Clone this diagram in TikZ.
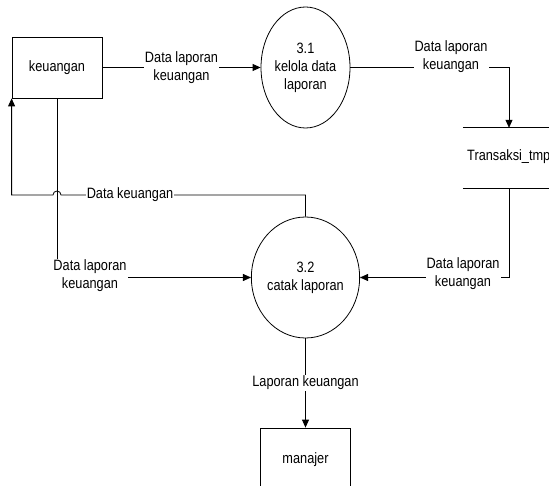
\documentclass[tikz,border=0pt]{standalone}
\usepackage{fontspec}
\setmainfont[FakeStretch=0.85]{Liberation Sans}
\usetikzlibrary{arrows.meta,shapes.geometric}

\begin{document}
\begin{tikzpicture}[x=1pt,y=-1pt,
  every node/.style={font=\fontsize{15}{18}\selectfont},
  flow/.style={draw=black, line width=0.8pt},
  arr/.style={flow, -{Triangle[length=8pt,width=7pt]}},
  entity/.style={draw=black, line width=0.8pt, rectangle, inner sep=0pt},
  proc/.style={draw=black, line width=0.8pt, ellipse, minimum width=89pt,
               minimum height=121pt, inner sep=0pt, align=center},
  lbl/.style={fill=white, inner sep=1pt, align=center},
]
\useasboundingbox (0,0) rectangle (549,486);
\fill[white] (0,0) rectangle (549,486);

% external entities, processes and the data store
\node[entity, minimum width=90pt, minimum height=61pt] (keu) at (57,67.5) {keuangan};
\node[proc] (p31) at (305.5,67.5) {3.1\\kelola data\\laporan};
\node[proc] (p32) at (305.5,277.5) {3.2\\catak laporan};
\node[minimum width=92pt, minimum height=60pt, inner sep=0pt] (store) at (509,158) {};
\draw[flow] (store.north west) -- (store.north east)
            (store.south west) -- (store.south east);
\node[anchor=west, inner sep=0pt] (storetxt) at (467,157) {Transaksi\_tmp};
\node[entity, minimum width=90.5pt, minimum height=64pt] (man) at (305.5,460) {manajer};

% helper points for the return flow and its line hop
\coordinate (hopR) at (61,195);
\coordinate (fbY) at (0,195);

% data flows
\draw[arr] (keu.east) -- node[lbl] (l1) {Data laporan\\keuangan} (p31.west);

\draw[arr] (p31.east) -- (p31.east -| store.north) -- (store.north);
\node[lbl] (l2) at (451,57) {Data laporan\\keuangan};

\draw[arr] (store.south) -- (store.south |- p32.east) -- (p32.east);
\node[lbl] (l3) at (463,274) {Data laporan\\keuangan};

\draw[arr] (p32.north) |- (hopR) arc[start angle=0, end angle=180, radius=4pt]
      -- (keu.south west |- fbY) -- (keu.south west);
\node[lbl] (l4) at (130,195) {Data keuangan};

\draw[arr] (keu.south) -- (keu.south |- p32.west) -- (p32.west);
\node[lbl] (l5) at (90,276) {Data laporan\\keuangan};

\draw[arr] (p32.south) -- node[lbl] (l6) {Laporan keuangan} (man.north);
\end{tikzpicture}
\end{document}
